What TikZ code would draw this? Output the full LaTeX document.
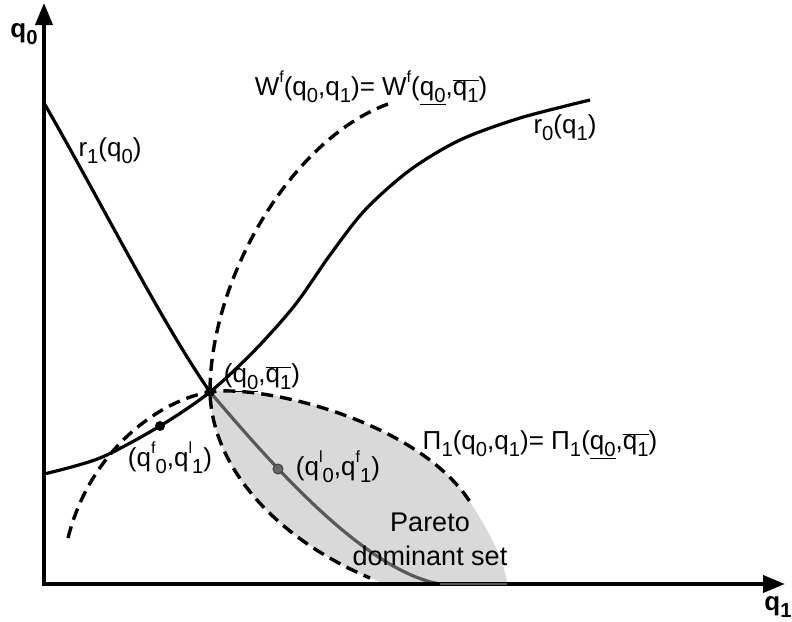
\documentclass[tikz,border=0pt]{standalone}
\usepackage{fontspec}
\setmainfont{Liberation Sans}
\usetikzlibrary{arrows.meta}
\newcommand{\lowtxt}[1]{\raisebox{-0.28em}{\scalebox{0.78}{#1}}}
\newcommand{\hightxt}[1]{\raisebox{0.5em}{\scalebox{0.62}{#1}}}
\newcommand{\ovl}[1]{\ensuremath{\overline{\mbox{#1}}}}

\begin{document}
\begin{tikzpicture}[x=1pt, y=-1pt,
    axis/.style={line width=3.8pt, -{Triangle[length=22pt, width=17pt]}},
    react/.style={line width=3.2pt},
    isoline/.style={line width=3.4pt, dash pattern=on 12pt off 7pt},
    lbl/.style={font=\fontsize{26}{30}\selectfont, inner sep=0pt},
    pt/.style={circle, fill=black, inner sep=0pt, minimum size=10pt}
]
\useasboundingbox (0,0) rectangle (792,621);

% 关键点
\coordinate (xo) at (42,584);
\coordinate (yo) at (44,586);
\coordinate (ytop) at (44,3);
\coordinate (xtop) at (785,584);
\coordinate (eq) at (210,392);
\coordinate (fl) at (160,426);
\coordinate (lf) at (278,469);
\coordinate (r1end) at (440,584);
\coordinate (ax) at (507,584);

% Pareto 区域
\fill[black!15] (eq) .. controls (260,384) and (420,420) .. (472,505)
  .. controls (496,543) and (505,565) .. (ax) -- (385,584) -- (370,578)
  .. controls (280,540) and (212,470) .. (eq) -- cycle;

% 等值线 (虚线)
\draw[isoline] (68,538) .. controls (90,450) and (160,400) .. (eq)
  .. controls (260,384) and (420,420) .. (472,505);
\draw[isoline] (388,104) .. controls (290,140) and (210,280) .. (eq)
  .. controls (212,470) and (280,540) .. (370,578);

% 反应曲线
\draw[react] (44,103) .. controls (100,200) and (160,320) .. (eq);
\draw[react] plot[smooth] coordinates {(44,474) (100,458) (fl) (eq) (255,350) (295,305) (330,255) (365,210) (410,170) (460,140) (520,118) (590,100)};
\draw[react, black!65] (eq) .. controls (260,450) and (360,570) .. (r1end);

% 坐标轴
\draw[axis] (yo) -- (ytop);
\draw[axis] (xo) -- (xtop);
\draw[black!65, line width=2pt] (r1end) -- (ax);

% 点
\node[pt] (peq) at (eq) {};
\node[pt] (pfl) at (fl) {};
\node[pt, fill=black!60, draw=black!75, line width=1pt] (plf) at (lf) {};

% 标签
\node[lbl, font=\bfseries\fontsize{26}{30}\selectfont] (lq0) at (24,34) {q\lowtxt{0}};
\node[lbl, font=\bfseries\fontsize{26}{30}\selectfont] (lq1) at (778,607) {q\lowtxt{1}};
\node[lbl] (lw) at (371,88) {W\hightxt{f}(q\lowtxt{0},q\lowtxt{1})= W\hightxt{f}(\underline{q\lowtxt{0}},\ovl{q\lowtxt{1}})};
\node[lbl] (lr1) at (110,151) {r\lowtxt{1}(q\lowtxt{0})};
\node[lbl] (lr0) at (565,128) {r\lowtxt{0}(q\lowtxt{1})};
\node[lbl] (leq) at (262,378) {(\underline{q\lowtxt{0}},\ovl{q\lowtxt{1}})};
\node[lbl] (lfl) at (170,458) {(q\hightxt{f}\lowtxt{0},q\hightxt{l}\lowtxt{1})};
\node[lbl] (llf) at (338,467) {(q\hightxt{l}\lowtxt{0},q\hightxt{f}\lowtxt{1})};
\node[lbl] (lpi) at (540,445) {Π\lowtxt{1}(q\lowtxt{0},q\lowtxt{1})= Π\lowtxt{1}(\underline{q\lowtxt{0}},\ovl{q\lowtxt{1}})};
\node[lbl, align=center, font=\fontsize{27}{34}\selectfont] (lpar) at (430,539) {Pareto\\dominant set};
\end{tikzpicture}
\end{document}
